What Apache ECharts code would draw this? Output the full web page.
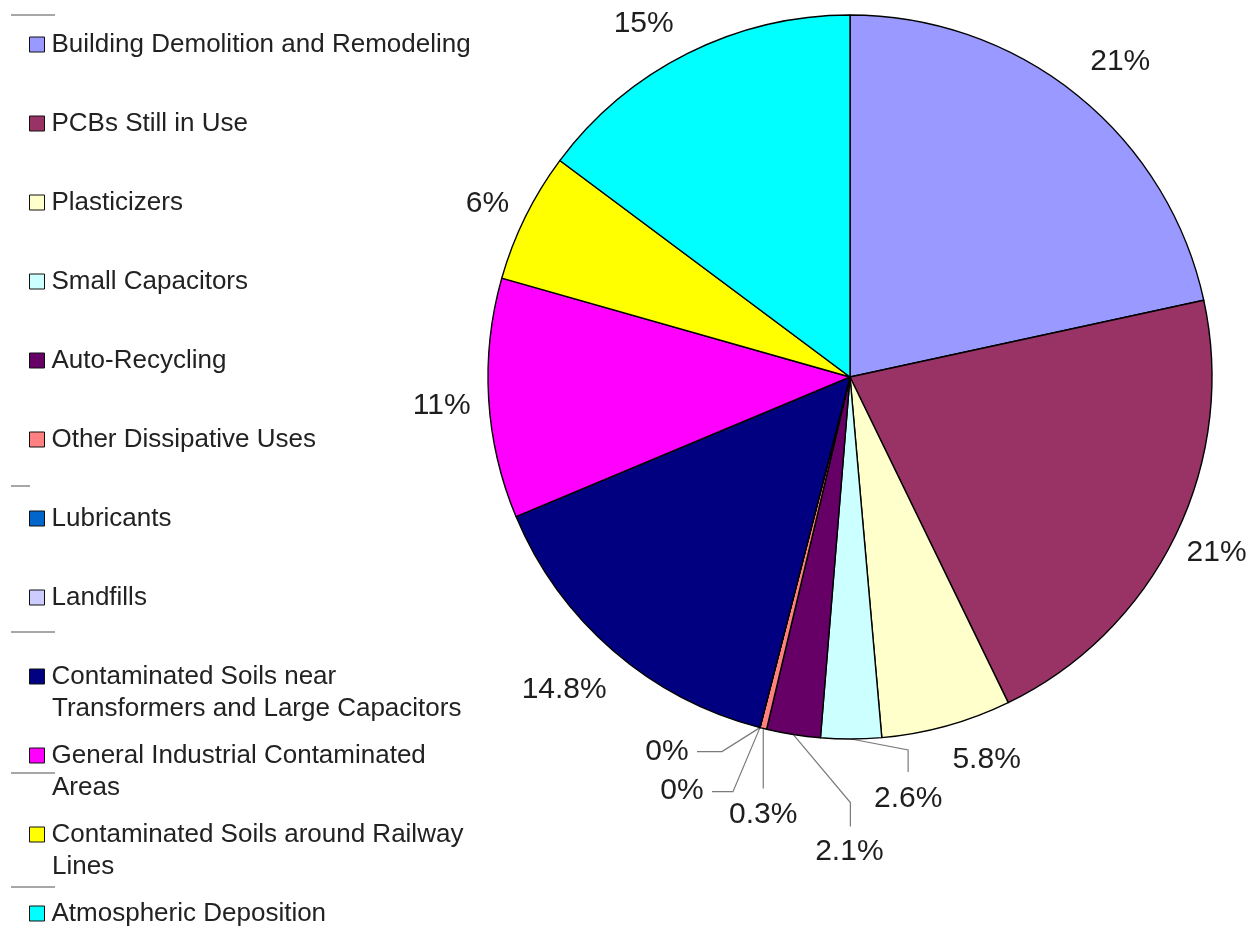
<!DOCTYPE html>
<html>
<head>
<meta charset="utf-8">
<script src="https://cdn.jsdelivr.net/npm/echarts@6/dist/echarts.min.js"></script>
<style>
  html, body { margin: 0; padding: 0; background: #fff; }
  #chart { width: 1256px; height: 938px; }
</style>
</head>
<body>
<div id="chart"></div>
<script>
// ---- data ----
const categories = [
  'Building Demolition and Remodeling',
  'PCBs Still in Use',
  'Plasticizers',
  'Small Capacitors',
  'Auto-Recycling',
  'Other Dissipative Uses',
  'Lubricants',
  'Landfills',
  'Contaminated Soils near\nTransformers and Large Capacitors',
  'General Industrial Contaminated\nAreas',
  'Contaminated Soils around Railway\nLines',
  'Atmospheric Deposition'
];
// slice sizes (percent) as drawn
const shares = [21.6, 21.2, 5.8, 2.7, 2.4, 0.3, 0, 0, 14.7, 10.7, 5.8, 14.8];
// percentage labels as printed on the chart
const labelText = ['21%', '21%', '5.8%', '2.6%', '2.1%', '0.3%', '0%', '0%', '14.8%', '11%', '6%', '15%'];

// ---- styles ----
const colors = ['#9999FF', '#993366', '#FFFFCC', '#CCFFFF', '#660066', '#FF8080',
                '#0066CC', '#CCCCFF', '#000080', '#FF00FF', '#FFFF00', '#00FFFF'];
// label centre offset from slice's outer mid-point
const labelOffset = [[43, -33], [41, 17], [40, 34], [57, 60], [56, 117], [0, 86],
                     [-93, 24], [-78, 63], [-49, 39], [-47, 7], [-38, -13], [-44, -30]];
// leader line bend points relative to the slice's outer mid-point (null = no line)
const leader = [null, null, null,
  [[57, 11], [57, 33]],
  [[57, 68], [57, 92]],
  [[0, 30], [0, 60]],
  [[-38, 24], [-63, 24]],
  [[-27, 64], [-48, 64]],
  null, null, null, null];

const FONT = '"Liberation Sans", Arial, sans-serif';
const CX = 850, CY = 377, R = 362;

const firstLine = s => s.split('\n')[0];
const secondLine = s => s.split('\n')[1];

const chart = echarts.init(document.getElementById('chart'), null, { renderer: 'canvas' });

// anchor fallback (outer mid-point) if library does not supply label line points
function anchorFor(i) {
  const total = shares.reduce((a, b) => a + b, 0);
  let acc = 0;
  for (let k = 0; k < i; k++) acc += shares[k];
  const mid = (acc + shares[i] / 2) / total * 2 * Math.PI;
  return [CX + R * Math.sin(mid), CY - R * Math.cos(mid)];
}

// legend second lines as text
const legendTop0 = 43, legendPitch = 79;
const extraLines = [];
categories.forEach((c, i) => {
  const s = secondLine(c);
  if (s) {
    extraLines.push({
      type: 'text', left: 52, top: legendTop0 + i * legendPitch + 21,
      style: { text: s, font: '26px ' + FONT, fill: '#222' }, silent: true
    });
  }
});
const strayY = [15, 486, 632, 773, 887];
const strayLen = [44, 19, 44, 44, 44];
const strays = strayY.map((y, k) => ({
  type: 'line', silent: true,
  shape: { x1: 11, y1: y, x2: 11 + strayLen[k], y2: y },
  style: { stroke: '#8a8a8a', lineWidth: 1.5 }
}));

const option = {
  backgroundColor: '#ffffff',
  animation: false,
  color: colors,
  legend: {
    orient: 'vertical',
    left: 29,
    top: legendTop0 - 13.5,
    padding: 0,
    itemWidth: 15,
    itemHeight: 15,
    itemGap: legendPitch - 30,
    selectedMode: false,
    icon: 'rect',
    itemStyle: { borderColor: '#111', borderWidth: 1 },
    textStyle: { fontSize: 26, fontFamily: FONT, color: '#222', lineHeight: 30, padding: [0, 0, 0, 2] },
    formatter: name => firstLine(name),
    data: categories
  },
  graphic: extraLines.concat(strays),
  series: [{
    type: 'pie',
    center: [CX, CY],
    radius: R,
    startAngle: 90,
    clockwise: true,
    avoidLabelOverlap: false,
    minShowLabelAngle: 0,
    emphasis: { disabled: true },
    itemStyle: { borderColor: '#000', borderWidth: 1.4 },
    label: {
      show: true,
      position: 'outside',
      fontSize: 30,
      fontFamily: FONT,
      color: '#1e1e1e',
      formatter: p => labelText[p.dataIndex]
    },
    labelLine: { show: true, length: 10, length2: 10, smooth: false,
                 lineStyle: { color: '#7a7a7a', width: 1.2 } },
    labelLayout: function (params) {
      const i = params.dataIndex;
      const pts = params.labelLinePoints;
      const a = (pts && pts[0]) ? pts[0] : anchorFor(i);
      const res = {
        x: a[0] + labelOffset[i][0],
        y: a[1] + labelOffset[i][1],
        align: 'center',
        verticalAlign: 'middle'
      };
      if (leader[i]) {
        res.labelLinePoints = [[a[0], a[1]],
          [a[0] + leader[i][0][0], a[1] + leader[i][0][1]],
          [a[0] + leader[i][1][0], a[1] + leader[i][1][1]]];
      } else {
        res.labelLinePoints = [[a[0], a[1]], [a[0], a[1]], [a[0], a[1]]];
      }
      return res;
    },
    data: categories.map((c, i) => ({
      name: c,
      value: shares[i],
      labelLine: leader[i] ? {} : { lineStyle: { opacity: 0 } }
    }))
  }]
};
chart.setOption(option);
</script>
</body>
</html>
